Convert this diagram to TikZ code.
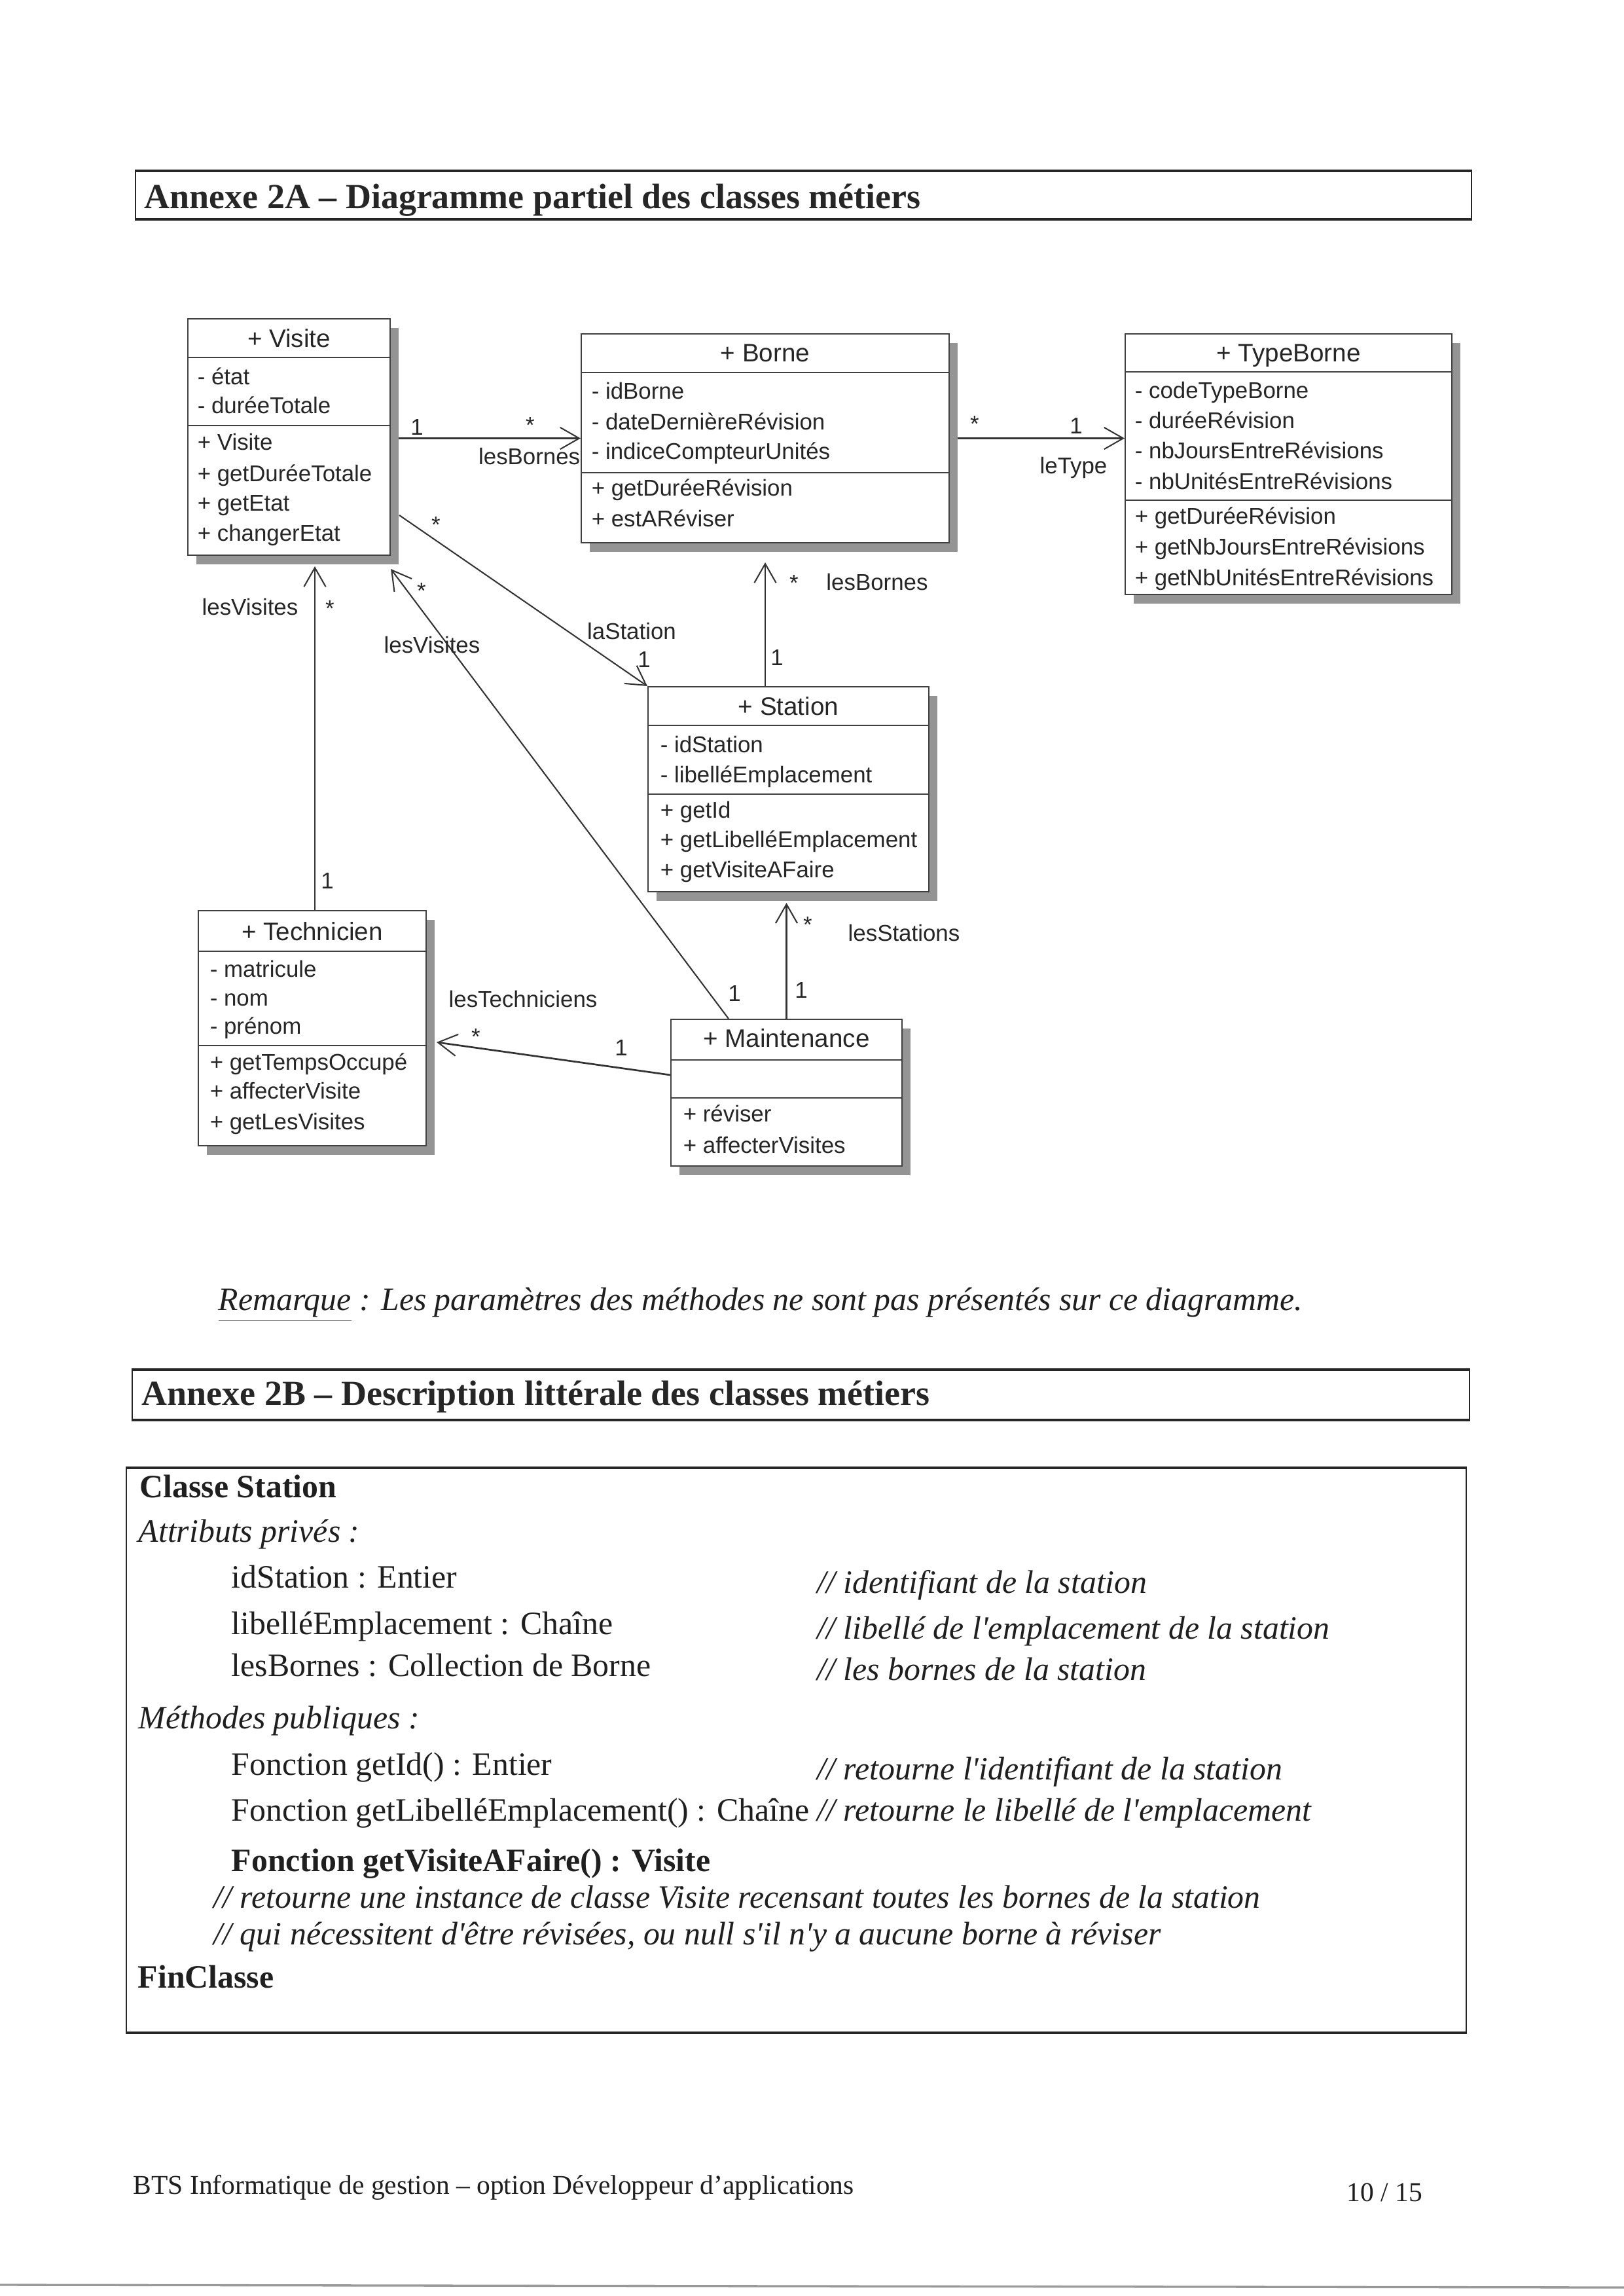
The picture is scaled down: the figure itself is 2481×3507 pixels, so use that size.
\documentclass[tikz,border=0pt]{standalone}
\usepackage{fontspec}
\setmainfont{Liberation Serif}
\newfontfamily\umlfont{Liberation Sans}
\usetikzlibrary{arrows.meta,calc,fit,backgrounds}

\tikzset{
  umlbox/.style={draw=black!75, line width=0.5pt, fill=white, inner sep=0pt},
  umlshadow/.style={fill=black!42, draw=none},
  umlsep/.style={draw=black!75, line width=0.5pt},
  umltitle/.style={font=\umlfont\fontsize{9.3}{11}\selectfont, text=black!85, anchor=base, inner sep=0pt},
  umlitem/.style={font=\umlfont\fontsize{8.4}{10}\selectfont, text=black!85, anchor=base west, inner sep=0pt},
  umllabel/.style={font=\umlfont\fontsize{8.4}{10}\selectfont, text=black!85, anchor=base, inner sep=0pt},
  assoc/.style={draw=black!80, line width=0.5pt},
  nav/.style={assoc, -{Straight Barb[length=7pt,width=8pt,line width=0.5pt]}},
  navthick/.style={nav, line width=0.85pt},
  hbox/.style={draw=black!85, line width=0.5pt, inner sep=0pt},
  hthick/.style={draw=black!85, line width=1.1pt},
  htitle/.style={font=\bfseries\fontsize{13}{15}\selectfont, text=black!85, anchor=base west, inner sep=0pt},
  body/.style={font=\fontsize{12}{14}\selectfont, text=black!88, anchor=base west, inner sep=0pt},
  foot/.style={font=\fontsize{10}{12}\selectfont, text=black!88, anchor=base west, inner sep=0pt}
}

\newcommand\umlclass[7]{%
  \fill[umlshadow] (#2+13,#3+14) rectangle (#4+13,#5+14);
  \node[umlbox, fit={(#2,#3) (#4,#5)}] (#1) {};
  \draw[umlsep] (#2,#6) -- (#4,#6);
  \draw[umlsep] (#2,#7) -- (#4,#7);
}
\newcommand\sq{\textquotesingle}

\begin{document}
\begin{tikzpicture}[x=0.0846667mm, y=-0.0846667mm]
\useasboundingbox (0,0) rectangle (2481,3507);
\begin{pgfonlayer}{background}
  \fill[white] (0,0) rectangle (2481,3507);
\end{pgfonlayer}

% ---------- Annexe 2A header ----------
\node[hbox, fit={(207,262) (2248,334)}] (h2a) {};
\draw[hthick] (h2a.north west) -- (h2a.north east);
\draw[hthick] (h2a.south west) -- (h2a.south east);
\node[htitle] (h2at) at (220,318) {Annexe 2A – Diagramme partiel des classes métiers};

% ---------- UML classes ----------
\umlclass{visite}{287}{487}{596}{848}{546}{650}
\node[umltitle] (visite-t) at (441.5,530) {+ Visite};
\node[umlitem] (visite-a1) at (301,587) {- état};
\node[umlitem] (visite-a2) at (301,631) {- duréeTotale};
\node[umlitem] (visite-m1) at (301,687) {+ Visite};
\node[umlitem] (visite-m2) at (301,735) {+ getDuréeTotale};
\node[umlitem] (visite-m3) at (301,780) {+ getEtat};
\node[umlitem] (visite-m4) at (301,826) {+ changerEtat};

\umlclass{borne}{888}{510}{1450}{829}{569}{722}
\node[umltitle] (borne-t) at (1169,552) {+ Borne};
\node[umlitem] (borne-a1) at (903,609) {- idBorne};
\node[umlitem] (borne-a2) at (903,656) {- dateDernièreRévision};
\node[umlitem] (borne-a3) at (903,701) {- indiceCompteurUnités};
\node[umlitem] (borne-m1) at (903,757) {+ getDuréeRévision};
\node[umlitem] (borne-m2) at (903,804) {+ estARéviser};

\umlclass{typeborne}{1719}{510}{2218}{908}{568}{764}
\node[umltitle] (typeborne-t) at (1968.5,552) {+ TypeBorne};
\node[umlitem] (typeborne-a1) at (1733,608) {- codeTypeBorne};
\node[umlitem] (typeborne-a2) at (1733,654) {- duréeRévision};
\node[umlitem] (typeborne-a3) at (1733,700) {- nbJoursEntreRévisions};
\node[umlitem] (typeborne-a4) at (1733,747) {- nbUnitésEntreRévisions};
\node[umlitem] (typeborne-m1) at (1733,800) {+ getDuréeRévision};
\node[umlitem] (typeborne-m2) at (1733,847) {+ getNbJoursEntreRévisions};
\node[umlitem] (typeborne-m3) at (1733,894) {+ getNbUnitésEntreRévisions};

\umlclass{station}{990}{1049}{1419}{1362}{1108}{1213}
\node[umltitle] (station-t) at (1204.5,1092) {+ Station};
\node[umlitem] (station-a1) at (1008,1149) {- idStation};
\node[umlitem] (station-a2) at (1008,1195) {- libelléEmplacement};
\node[umlitem] (station-m1) at (1008,1249) {+ getId};
\node[umlitem] (station-m2) at (1008,1294) {+ getLibelléEmplacement};
\node[umlitem] (station-m3) at (1008,1340) {+ getVisiteAFaire};

\umlclass{technicien}{303}{1391}{651}{1750}{1453}{1597}
\node[umltitle] (technicien-t) at (477,1436) {+ Technicien};
\node[umlitem] (technicien-a1) at (320,1492) {- matricule};
\node[umlitem] (technicien-a2) at (320,1536) {- nom};
\node[umlitem] (technicien-a3) at (320,1579) {- prénom};
\node[umlitem] (technicien-m1) at (320,1634) {+ getTempsOccupé};
\node[umlitem] (technicien-m2) at (320,1678) {+ affecterVisite};
\node[umlitem] (technicien-m3) at (320,1725) {+ getLesVisites};

\umlclass{maintenance}{1025}{1557}{1378}{1781}{1619}{1677}
\node[umltitle] (maintenance-t) at (1201.5,1599) {+ Maintenance};
\node[umlitem] (maintenance-m1) at (1043,1713) {+ réviser};
\node[umlitem] (maintenance-m2) at (1043,1761) {+ affecterVisites};

% ---------- associations (behind the boxes) ----------
\begin{pgfonlayer}{background}
  \draw[navthick] (visite.east |- borne.west) -- (borne.west);
  \draw[navthick] (borne.east) -- (typeborne.west |- borne.east);
  \draw[nav] (borne.south |- station.north) -- ($(borne.south)+(0,29)$);
  \draw[nav] ($(visite.north east)+(13,301)$) -- (station.north west);
  \draw[nav] ($(maintenance.north west)+(89,0)$) -- ($(visite.south east)+(0,20)$);
  \draw[nav] ($(technicien.north)+(4,0)$) -- ($(technicien.north |- visite.south)+(4,16)$);
  \draw[nav, line width=0.65pt] ($(maintenance.north west)+(0,86)$) -- ($(technicien.north east)+(15,202)$);
  \draw[nav] (maintenance.north) -- ($(maintenance.north |- station.south)+(0,16)$);
\end{pgfonlayer}

% ---------- association labels ----------
\node[umllabel] (vb-1) at (637,664) {1};
\node[umllabel] (vb-s) at (810,661) {*};
\node[umllabel, anchor=base east] (vb-r) at (887,709) {lesBornes};

\node[umllabel] (bt-s) at (1489,659) {*};
\node[umllabel] (bt-1) at (1644,662) {1};
\node[umllabel] (bt-r) at (1640,723) {leType};

\node[umllabel] (sb-s) at (1213,902) {*};
\node[umllabel] (sb-r) at (1340,901) {lesBornes};
\node[umllabel] (sb-1) at (1187,1016) {1};

\node[umllabel] (vs-s) at (666,813) {*};
\node[umllabel] (vs-r) at (965,976) {laStation};
\node[umllabel] (vs-1) at (984,1019) {1};

\node[umllabel] (mv-s) at (644,914) {*};
\node[umllabel] (mv-r) at (660,997) {lesVisites};
\node[umllabel] (mv-1) at (1122,1529) {1};

\node[umllabel] (tv-r) at (382,939) {lesVisites};
\node[umllabel] (tv-s) at (504,941) {*};
\node[umllabel] (tv-1) at (500,1357) {1};

\node[umllabel] (mt-r) at (799,1538) {lesTechniciens};
\node[umllabel] (mt-s) at (727,1595) {*};
\node[umllabel] (mt-1) at (949,1612) {1};

\node[umllabel] (ms-s) at (1234,1424) {*};
\node[umllabel] (ms-r) at (1381,1437) {lesStations};
\node[umllabel] (ms-1) at (1224,1524) {1};

% ---------- Remarque ----------
\node[body] (rem) at (333,2001) {\itshape\underline{Remarque} : Les paramètres des méthodes ne sont pas présentés sur ce diagramme.};

% ---------- Annexe 2B header ----------
\node[hbox, fit={(202,2093) (2245,2168)}] (h2b) {};
\draw[hthick] (h2b.north west) -- (h2b.north east);
\draw[hthick] (h2b.south west) -- (h2b.south east);
\node[htitle] (h2bt) at (216,2146) {Annexe 2B – Description littérale des classes métiers};

% ---------- Class description box ----------
\node[hbox, fit={(193,2243) (2240,3104)}] (cls) {};
\draw[hthick] (cls.north west) -- (cls.north east);
\draw[hthick] (cls.south west) -- (cls.south east);

\node[body] (c1) at (213,2287) {\bfseries Classe Station};
\node[body] (c2) at (211,2355) {\itshape Attributs privés :};
\node[body] (c3) at (353,2425) {idStation : Entier};
\node[body] (c3c) at (1248,2433) {\itshape // identifiant de la station};
\node[body] (c4) at (353,2496) {libelléEmplacement : Chaîne};
\node[body] (c4c) at (1248,2503) {\itshape // libellé de l\sq emplacement de la station};
\node[body] (c5) at (353,2560) {lesBornes : Collection de Borne};
\node[body] (c5c) at (1248,2566) {\itshape // les bornes de la station};
\node[body] (c6) at (211,2640) {\itshape Méthodes publiques :};
\node[body] (c7) at (353,2711) {Fonction getId() : Entier};
\node[body] (c7c) at (1248,2718) {\itshape // retourne l\sq identifiant de la station};
\node[body] (c8) at (353,2781) {Fonction getLibelléEmplacement() : Chaîne \itshape // retourne le libellé de l\sq emplacement};
\node[body] (c9) at (353,2858) {\bfseries Fonction getVisiteAFaire() : Visite};
\node[body] (c10) at (326,2914) {\itshape // retourne une instance de classe Visite recensant toutes les bornes de la station};
\node[body] (c11) at (326,2970) {\itshape // qui nécessitent d\sq être révisées, ou null s\sq il n\sq y a aucune borne à réviser};
\node[body] (c12) at (210,3036) {\bfseries FinClasse};

% ---------- footer ----------
\node[foot] (f1) at (203,3351) {BTS Informatique de gestion – option Développeur d’applications};
\node[foot] (f2) at (2057,3362) {10 / 15};
\draw[black!40, line width=0.8pt] (0,3490) -- (2481,3494);
\end{tikzpicture}
\end{document}
